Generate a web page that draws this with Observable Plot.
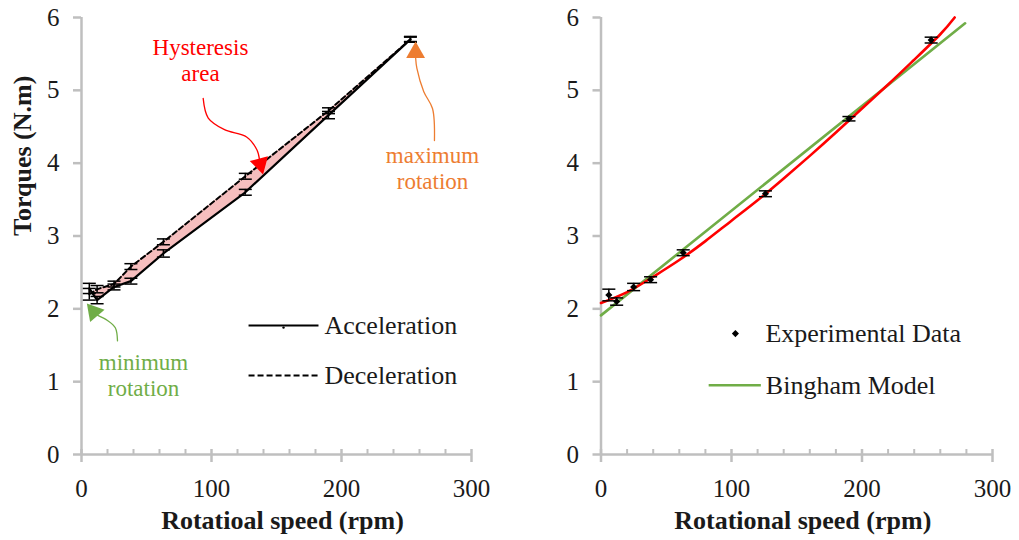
<!DOCTYPE html>
<html><head><meta charset="utf-8">
<script src="https://cdn.jsdelivr.net/npm/d3@7"></script>
<script src="https://cdn.jsdelivr.net/npm/@observablehq/plot@0.6"></script>
<style>
body{margin:0;background:#fff;}
#wrap{display:flex;width:1019px;height:540px;}
#wrap svg, #wrap svg text{font-family:"Times New Roman","Liberation Serif","Tinos","DejaVu Serif",serif !important;}
</style></head><body><div id="wrap"></div>
<script>
// ---- data ----
const speeds = [6, 12, 25, 38, 63, 126, 190, 253];
const accelTorque = [2.28, 2.12, 2.30, 2.38, 2.76, 3.60, 4.66, 5.70];
const accelErr    = [0.07, 0.05, 0.04, 0.04, 0.05, 0.04, 0.05, 0.03];
const decelTorque = [2.20, 2.27, 2.34, 2.58, 2.92, 3.82, 4.72, 5.70];
const decelErr    = [0.08, 0.05, 0.04, 0.04, 0.04, 0.04, 0.04, 0.04];
const expTorque   = [2.19, 2.10, 2.30, 2.40, 2.77, 3.58, 4.61, 5.69];
const expErr      = [0.08, 0.05, 0.05, 0.04, 0.04, 0.04, 0.03, 0.04];
const binghamSpeed  = [0, 279];
const binghamTorque = [1.91, 5.92];
const fitSpeed  = [0, 20, 40, 60, 80, 100, 120, 140, 160, 180, 200, 220, 240, 260, 271];
const fitTorque = [2.08, 2.23, 2.44, 2.67, 2.93, 3.21, 3.49, 3.79, 4.10, 4.42, 4.75, 5.08, 5.42, 5.77, 6.0];
const xTicks = [0, 100, 200, 300];
const xMinorTicks = [20, 40, 60, 80, 120, 140, 160, 180, 220, 240, 260, 280];
const yTicks = [0, 1, 2, 3, 4, 5, 6];

// annotation anchors (data units)
const hystLabel = [{x: 91.5, y: 5.59, t: "Hysteresis"}, {x: 91.5, y: 5.23, t: "area"}];
const hystPath = [[93.6, 4.89], [97.5, 4.62], [110, 4.46], [127, 4.36], [135, 4.18], [137, 4.04]];
const hystHead = [{x: 137.5, y: 3.99}];
const maxLabel = [{x: 270, y: 4.11, t: "maximum"}, {x: 270, y: 3.74, t: "rotation"}];
const maxPath = [[271.5, 4.31], [270, 4.75], [263.3, 4.98], [258, 5.3], [257, 5.45]];
const maxHead = [{x: 257, y: 5.52}];
const minLabel = [{x: 47.7, y: 1.26, t: "minimum"}, {x: 47.7, y: 0.90, t: "rotation"}];
const minPath = [[27.7, 1.56], [26, 1.74], [20, 1.84], [12.5, 1.91]];
const minHead = [{x: 9.5, y: 1.96}];

const accLegend = [{x1: 128.5, x2: 182.3, y: 1.77, t: "Acceleration"}];
const decLegend = [{x1: 128.5, x2: 182.3, y: 1.085, t: "Deceleration"}];
const rightLegendDot = [{x: 103, y: 1.66, t: "Experimental Data"}];
const rightLegendLine = [{x1: 82.5, x2: 122.5, y: 0.95, t: "Bingham Model"}];

// ---- tables ----
const hyst = speeds.map((s, i) => ({s, a: accelTorque[i], ae: accelErr[i], d: decelTorque[i], de: decelErr[i]}));
const exp = speeds.map((s, i) => ({s, v: expTorque[i], e: expErr[i]}));
const bingham = binghamSpeed.map((s, i) => ({s, v: binghamTorque[i]}));
const fit = fitSpeed.map((s, i) => ({s, v: fitTorque[i]}));

const GRAY = "#bfbfbf", TXT = "#1a1a1a";
const CAP = 5;
const FONT = "'Times New Roman', 'Liberation Serif', 'Tinos', 'DejaVu Serif', serif";

function frameMarks() {
  return [
    Plot.ruleX([0], {stroke: GRAY, strokeWidth: 2.5}),
    Plot.ruleY([0], {stroke: GRAY, strokeWidth: 2.5}),
    Plot.axisY(yTicks, {tickSize: 8, stroke: GRAY, strokeWidth: 2.5, fill: TXT, tickPadding: 14, fontSize: 25, tickFormat: d => String(d), label: null}),
    Plot.axisX(xTicks, {tickSize: 13, dy: -5, stroke: GRAY, strokeWidth: 2.5, fill: TXT, tickPadding: 17, fontSize: 25, tickFormat: d => String(d), label: null}),
    Plot.axisX(xMinorTicks, {tickSize: 5, dy: -5, stroke: GRAY, strokeWidth: 2, text: null, label: null})
  ];
}

function errBars(data, yk, ek, w) {
  return [
    Plot.ruleX(data, {x: "s", y1: d => d[yk] - d[ek], y2: d => d[yk] + d[ek], stroke: "black", strokeWidth: w}),
    Plot.link(data, {x1: d => d.s - CAP, x2: d => d.s + CAP, y1: d => d[yk] + d[ek], y2: d => d[yk] + d[ek], stroke: "black", strokeWidth: w}),
    Plot.link(data, {x1: d => d.s - CAP, x2: d => d.s + CAP, y1: d => d[yk] - d[ek], y2: d => d[yk] - d[ek], stroke: "black", strokeWidth: w})
  ];
}

const common = {height: 540, x: {domain: [0, 300]}, y: {domain: [0, 6]}, marginTop: 17, marginBottom: 86,
  style: {background: "transparent", overflow: "visible", fontFamily: FONT}};

const left = Plot.plot({
  ...common, width: 510, marginLeft: 81, marginRight: 39,
  marks: [
    ...frameMarks(),
    Plot.areaY(hyst, {x: "s", y1: "a", y2: "d", fill: "#f6bebe"}),
    Plot.line(hyst, {x: "s", y: "a", stroke: "black", strokeWidth: 2.2}),
    Plot.line(hyst, {x: "s", y: "d", stroke: "black", strokeWidth: 2, strokeDasharray: "5,3"}),
    ...errBars(hyst, "a", "ae", 1.5),
    ...errBars(hyst, "d", "de", 1.5),
    // legend
    Plot.link(accLegend, {x1: "x1", x2: "x2", y1: "y", y2: "y", stroke: "black", strokeWidth: 2}),
    Plot.dot(accLegend, {x: d => (d.x1 + d.x2) / 2, y: "y", r: 1.2, fill: "black", dy: 2}),
    Plot.text(accLegend, {x: "x2", y: "y", text: "t", textAnchor: "start", dx: 6, fontSize: 26, fill: TXT}),
    Plot.link(decLegend, {x1: "x1", x2: "x2", y1: "y", y2: "y", stroke: "black", strokeWidth: 2, strokeDasharray: "6,3"}),
    Plot.text(decLegend, {x: "x2", y: "y", text: "t", textAnchor: "start", dx: 6, fontSize: 26, fill: TXT}),
    // annotations
    Plot.text(hystLabel, {x: "x", y: "y", text: "t", fill: "#ff0000", fontSize: 23}),
    Plot.line(hystPath, {curve: "catmull-rom", stroke: "#ff0000", strokeWidth: 1.3}),
    Plot.dot(hystHead, {x: "x", y: "y", symbol: "triangle", r: 7, fill: "#ff0000", rotate: 165}),
    Plot.text(maxLabel, {x: "x", y: "y", text: "t", fill: "#ed7d31", fontSize: 23}),
    Plot.line(maxPath, {curve: "catmull-rom", stroke: "#ed7d31", strokeWidth: 1.3}),
    Plot.dot(maxHead, {x: "x", y: "y", symbol: "triangle", r: 7, fill: "#ed7d31", rotate: 0}),
    Plot.text(minLabel, {x: "x", y: "y", text: "t", fill: "#70ad47", fontSize: 23}),
    Plot.line(minPath, {curve: "catmull-rom", stroke: "#70ad47", strokeWidth: 1.3}),
    Plot.dot(minHead, {x: "x", y: "y", symbol: "triangle", r: 7, fill: "#70ad47", rotate: -40}),
    // titles
    Plot.text(["Rotatioal speed (rpm)"], {frameAnchor: "bottom", dy: 74, dx: 6, fontSize: 26, fontWeight: "bold", fill: TXT}),
    Plot.text(["Torques (N.m)"], {frameAnchor: "left", dx: -59, rotate: -90, fontSize: 26, fontWeight: "bold", fill: TXT})
  ]
});

const right = Plot.plot({
  ...common, width: 509, marginLeft: 90.5, marginRight: 27,
  marks: [
    ...frameMarks(),
    Plot.line(bingham, {x: "s", y: "v", stroke: "#70ad47", strokeWidth: 2.6}),
    Plot.line(fit, {x: "s", y: "v", curve: "natural", stroke: "#ff0000", strokeWidth: 2.6}),
    ...errBars(exp, "v", "e", 1.5),
    Plot.dot(exp, {x: "s", y: "v", symbol: "diamond2", r: 3.2, fill: "black", stroke: null}),
    // legend
    Plot.dot(rightLegendDot, {x: "x", y: "y", symbol: "diamond2", r: 3.2, fill: "black"}),
    Plot.text(rightLegendDot, {x: "x", y: "y", text: "t", dx: 30, textAnchor: "start", fontSize: 26, fill: TXT}),
    Plot.link(rightLegendLine, {x1: "x1", x2: "x2", y1: "y", y2: "y", stroke: "#70ad47", strokeWidth: 2.6}),
    Plot.text(rightLegendLine, {x: "x2", y: "y", text: "t", dx: 5, textAnchor: "start", fontSize: 26, fill: TXT}),
    Plot.text(["Rotational speed (rpm)"], {frameAnchor: "bottom", dy: 74, dx: 6, fontSize: 26, fontWeight: "bold", fill: TXT})
  ]
});

document.getElementById("wrap").append(left, right);
</script></body></html>
